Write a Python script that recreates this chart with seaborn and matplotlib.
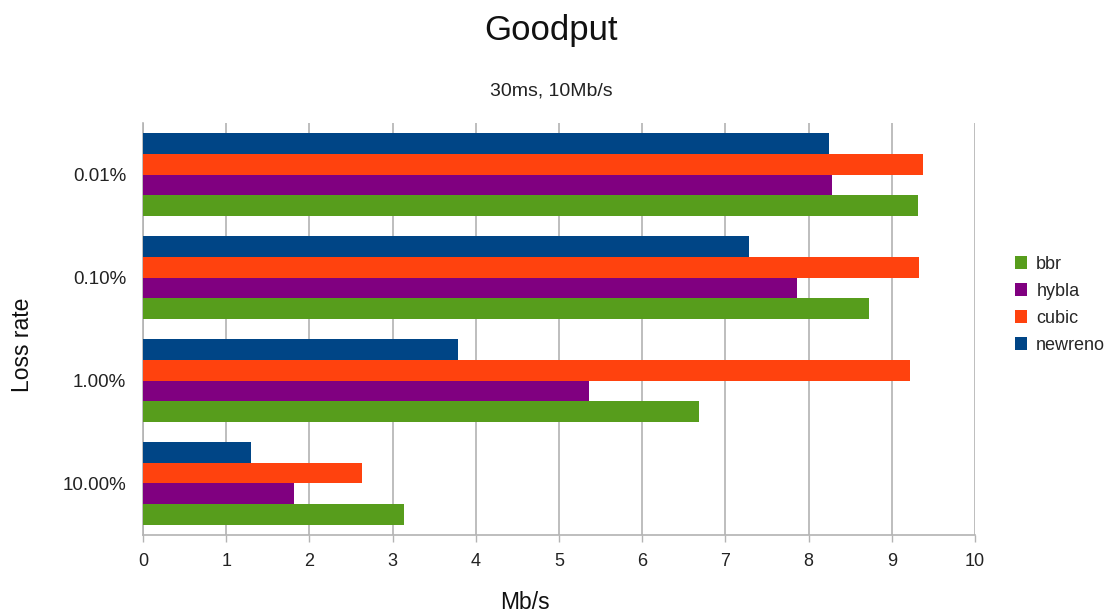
import matplotlib
matplotlib.use("Agg")
import matplotlib.pyplot as plt
from matplotlib.patches import Patch
import seaborn as sns
import pandas as pd

# Goodput per congestion-control algorithm at each loss rate
loss_rates = ["0.01%", "0.10%", "1.00%", "10.00%"]
newreno = [8.24, 7.28, 3.78, 1.30]
cubic = [9.38, 9.33, 9.22, 2.63]
hybla = [8.28, 7.86, 5.36, 1.82]
bbr = [9.31, 8.73, 6.68, 3.14]

algorithms = ["newreno", "cubic", "hybla", "bbr"]
colors = {"newreno": "#004586", "cubic": "#FF420E", "hybla": "#800080", "bbr": "#579D1C"}

rows = []
for name, vals in zip(algorithms, [newreno, cubic, hybla, bbr]):
    for lr, v in zip(loss_rates, vals):
        rows.append({"Loss rate": lr, "algo": name, "Mb/s": v})
df = pd.DataFrame(rows)

sns.set_theme(style="white")
plt.rcParams["font.family"] = ["Liberation Sans", "DejaVu Sans"]

fig = plt.figure(figsize=(11.13, 6.16), dpi=100)
ax = fig.add_axes([0.1285, 0.1315, 0.876 - 0.1285, 0.8003 - 0.1315])

sns.barplot(data=df, y="Loss rate", x="Mb/s", hue="algo", hue_order=algorithms,
            order=loss_rates, palette=colors, orient="h", width=0.8,
            saturation=1, linewidth=0, legend=False, ax=ax, zorder=3)

ax.set_xlim(0, 10)
ax.set_ylim(3.5, -0.5)
ax.set_xticks(range(0, 11))
ax.tick_params(axis="x", length=5, width=1, color="#b3b3b3", labelsize=13,
               pad=8, labelcolor="#222222", direction="out", bottom=True)
ax.xaxis.grid(True, color="#b3b3b3", linewidth=1.2, zorder=0)
ax.set_axisbelow(True)

# category boundary ticks, labels centred on each group
ax.set_yticks([-0.5, 0.5, 1.5, 2.5, 3.5])
ax.set_yticklabels([])
ax.set_yticks(range(len(loss_rates)), minor=True)
ax.set_yticklabels(loss_rates, minor=True)
ax.tick_params(axis="y", which="major", length=6, width=1, color="#b3b3b3", direction="out")
ax.tick_params(axis="y", which="minor", length=0, labelsize=13.5, pad=12, labelcolor="#222222")

for side in ["top", "right"]:
    ax.spines[side].set_visible(False)
for side in ["left", "bottom"]:
    ax.spines[side].set_color("#b3b3b3")
    ax.spines[side].set_linewidth(1.2)

ax.set_xlabel("Mb/s", fontsize=16.5, color="#111111")
ax.set_ylabel("Loss rate", fontsize=16.5, color="#111111")
ax.xaxis.label.set_va("center")
ax.yaxis.label.set_va("center")
ax.xaxis.set_label_coords(0.459, -0.165)
ax.yaxis.set_label_coords(-0.1454, 0.461)

fig.text(0.495, 0.951, "Goodput", ha="center", va="center", fontsize=25, color="#111111")
fig.text(0.495, 0.853, "30ms, 10Mb/s", ha="center", va="center", fontsize=14, color="#222222")

handles = [Patch(facecolor=colors[a], edgecolor="none") for a in ["bbr", "hybla", "cubic", "newreno"]]
fig.legend(handles, ["bbr", "hybla", "cubic", "newreno"], loc="center left",
           bbox_to_anchor=(0.897, 0.505), frameon=False, fontsize=13,
           handlelength=0.7, handleheight=0.7, handletextpad=0.5, labelspacing=0.55)

fig.savefig("out.png", dpi=100)
